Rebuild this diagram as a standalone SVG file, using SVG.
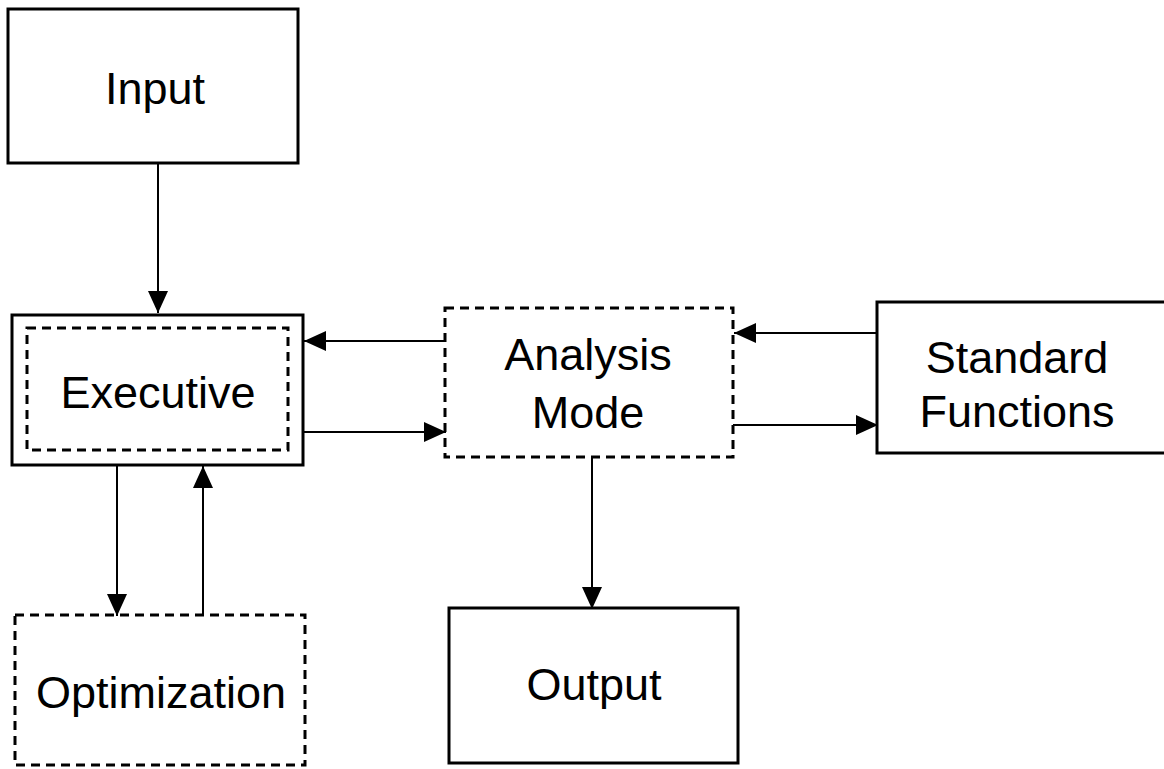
<svg xmlns="http://www.w3.org/2000/svg" width="1164" height="769" viewBox="0 0 1164 769">
<defs>
<style>
.box{fill:none;stroke:#000;stroke-width:3}
.dash{fill:none;stroke:#000;stroke-width:3;stroke-dasharray:9 6}
.conn{fill:none;stroke:#000;stroke-width:2}
.lbl{font-family:"Liberation Sans",Arial,sans-serif;font-size:45px;fill:#000;text-anchor:middle}
</style>
<marker id="ah" markerUnits="userSpaceOnUse" markerWidth="22" markerHeight="20" refX="22" refY="10" orient="auto">
<path d="M0,0 L22,10 L0,20 Z" fill="#000"/>
</marker>
</defs>
<rect width="1164" height="769" fill="#fff"/>
<g id="connectors">
<line class="conn" x1="158" y1="163" x2="158" y2="313" marker-end="url(#ah)"/>
<line class="conn" x1="445" y1="341" x2="304" y2="341" marker-end="url(#ah)"/>
<line class="conn" x1="303" y1="432" x2="446" y2="432" marker-end="url(#ah)"/>
<line class="conn" x1="877" y1="333" x2="734" y2="333" marker-end="url(#ah)"/>
<line class="conn" x1="733" y1="425" x2="878" y2="425" marker-end="url(#ah)"/>
<line class="conn" x1="117" y1="465" x2="117" y2="616" marker-end="url(#ah)"/>
<line class="conn" x1="203" y1="615" x2="203" y2="466" marker-end="url(#ah)"/>
<line class="conn" x1="592" y1="457" x2="592" y2="609" marker-end="url(#ah)"/>
</g>
<g id="input">
<rect class="box" x="8" y="9" width="290" height="154"/>
<text class="lbl" x="155" y="104">Input</text>
</g>
<g id="executive">
<rect class="box" x="12" y="315" width="291" height="150"/>
<rect class="dash" x="27" y="328" width="261" height="122"/>
<text class="lbl" x="158" y="408">Executive</text>
</g>
<g id="analysis">
<rect class="dash" x="445" y="308" width="288" height="149"/>
<text class="lbl" x="588" y="370">Analysis</text>
<text class="lbl" x="588" y="428">Mode</text>
</g>
<g id="standard">
<rect class="box" x="877" y="302" width="290" height="151"/>
<text class="lbl" x="1017" y="373">Standard</text>
<text class="lbl" x="1017" y="427">Functions</text>
</g>
<g id="optimization">
<rect class="dash" x="15" y="615" width="290" height="150"/>
<text class="lbl" x="161" y="708">Optimization</text>
</g>
<g id="output">
<rect class="box" x="449" y="608" width="289" height="155"/>
<text class="lbl" x="594" y="700">Output</text>
</g>
</svg>
